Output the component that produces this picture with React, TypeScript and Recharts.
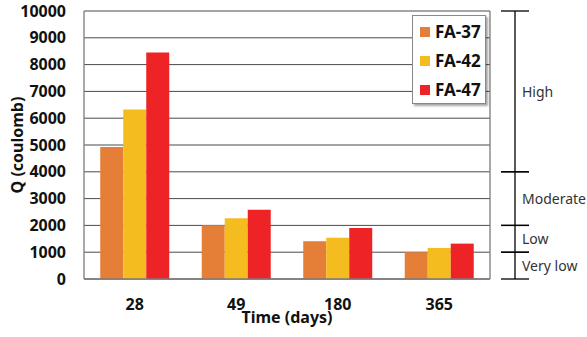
import {
  BarChart,
  Bar,
  XAxis,
  YAxis,
  CartesianGrid,
  Legend,
  ReferenceArea,
} from "recharts";

const ages = ["28", "49", "180", "365"];
const fa37 = [4930, 2010, 1410, 1000];
const fa42 = [6320, 2270, 1540, 1160];
const fa47 = [8450, 2580, 1900, 1320];
const yTicks = [0, 1000, 2000, 3000, 4000, 5000, 6000, 7000, 8000, 9000, 10000];

// chloride penetrability bands (ASTM C1202)
const zoneNames = ["Very low", "Low", "Moderate", "High"];
const zoneFrom = [0, 1000, 2000, 4000];
const zoneTo = [1000, 2000, 4000, 10000];

const series = [
  { key: "fa37", name: "FA-37", color: "#E57E37" },
  { key: "fa42", name: "FA-42", color: "#F5BC20" },
  { key: "fa47", name: "FA-47", color: "#EE2325" },
];

const data = ages.map((age, i) => ({
  age,
  fa37: fa37[i],
  fa42: fa42[i],
  fa47: fa47[i],
}));

const FONT = "'Noto Sans', 'Noto Sans CJK KR', sans-serif";
const GRID = "#4a4a4a";
const BORDER = "#7a7a7a";

// right frame edge, bracket segment and label for one band
function ZoneBracket(props: any) {
  const { x, y, width, height, name } = props;
  const rx = x + width;
  const lx = rx + 25;
  return (
    <g>
      <line x1={rx} x2={rx} y1={y} y2={y + height} stroke={BORDER} strokeWidth={1.3} />
      <line x1={lx} x2={lx} y1={y} y2={y + height} stroke="#000" strokeWidth={1.3} />
      <line x1={lx - 14} x2={lx + 14} y1={y} y2={y} stroke="#000" strokeWidth={1.3} />
      <line x1={lx - 14} x2={lx + 14} y1={y + height} y2={y + height} stroke="#000" strokeWidth={1.3} />
      <text
        x={lx + 7}
        y={y + height / 2}
        dominantBaseline="central"
        fontFamily={FONT}
        fontSize={14}
        fill="#333"
      >
        {name}
      </text>
    </g>
  );
}

function LegendBox(props: any) {
  const items = props.payload || [];
  return (
    <div
      style={{
        width: 74,
        height: 89,
        background: "#fff",
        border: "1px solid #888",
        boxShadow: "2px 2px 2px rgba(0,0,0,0.35)",
        fontFamily: FONT,
        paddingTop: 1,
        boxSizing: "border-box",
      }}
    >
      {items.map((it: any) => (
        <div
          key={it.value}
          style={{ display: "flex", alignItems: "center", height: 29, paddingLeft: 7 }}
        >
          <span style={{ width: 10, height: 10, background: it.color, marginRight: 5 }} />
          <span style={{ fontSize: 17, fontWeight: 700, color: "#111" }}>{it.value}</span>
        </div>
      ))}
    </div>
  );
}

export default function App() {
  return (
    <div style={{ position: "absolute", left: 0, top: 0, background: "#fff" }}>
      <BarChart
        width={587}
        height={337}
        data={data}
        margin={{ top: 11, right: 97, bottom: 0, left: 0 }}
        barCategoryGap="16%"
        barGap={0}
      >
        <CartesianGrid vertical={false} stroke={GRID} strokeWidth={1} />
        <XAxis
          dataKey="age"
          height={58}
          tickLine={false}
          tickSize={0}
          tickMargin={20}
          axisLine={{ stroke: BORDER, strokeWidth: 1.3 }}
          tick={{ fontFamily: FONT, fontSize: 16, fontWeight: 700, fill: "#111" }}
          label={{
            value: "Time (days)",
            position: "insideBottom",
            offset: 14,
            style: { fontFamily: FONT, fontSize: 16, fontWeight: 700, fill: "#111" },
          }}
        />
        <YAxis
          width={84}
          domain={[0, 10000]}
          ticks={yTicks}
          interval={0}
          tickLine={false}
          tickSize={0}
          tickMargin={18}
          axisLine={{ stroke: BORDER, strokeWidth: 1.3 }}
          tick={{ fontFamily: FONT, fontSize: 16, fontWeight: 700, fill: "#111" }}
          label={{
            value: "Q (coulomb)",
            angle: -90,
            position: "center",
            dx: -25,
            style: { fontFamily: FONT, fontSize: 16, fontWeight: 700, fill: "#111", textAnchor: "middle" },
          }}
        />
        {zoneNames.map((name, i) => (
          <ReferenceArea
            key={name}
            y1={zoneFrom[i]}
            y2={zoneTo[i]}
            fill="none"
            stroke="none"
            shape={(p: any) => <ZoneBracket {...p} name={name} />}
          />
        ))}
        {series.map((s) => (
          <Bar
            key={s.key}
            dataKey={s.key}
            name={s.name}
            fill={s.color}
            isAnimationActive={false}
          />
        ))}
        {/* floating legend: centre/middle alignment reserves no plot space */}
        <Legend
          layout="vertical"
          verticalAlign="middle"
          align="center"
          content={<LegendBox />}
          wrapperStyle={{ position: "absolute", left: 412, top: 15, width: 74 }}
        />
      </BarChart>
    </div>
  );
}
